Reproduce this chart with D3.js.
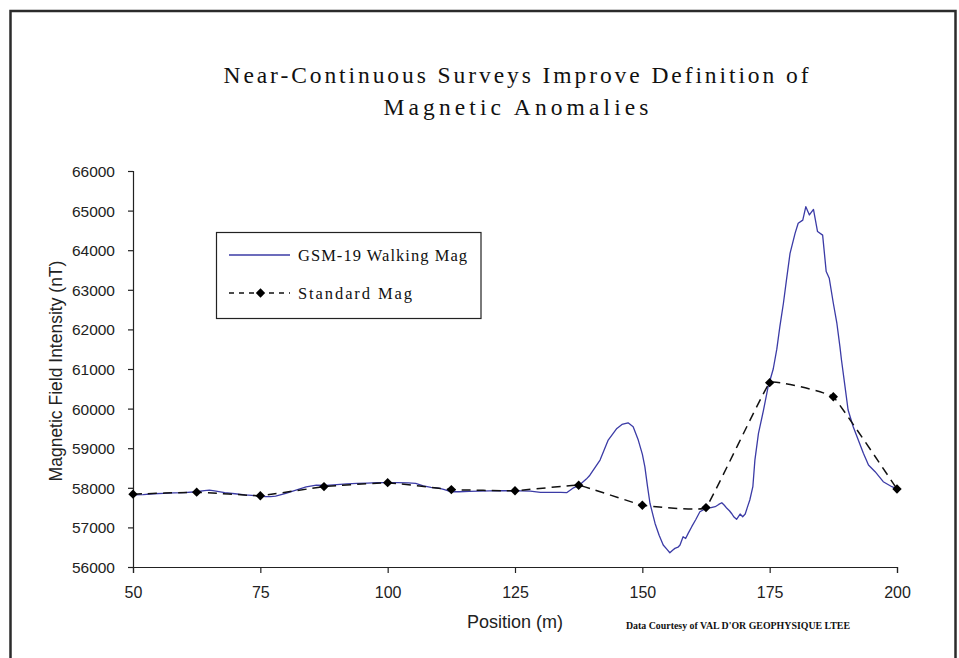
<!DOCTYPE html>
<html>
<head>
<meta charset="utf-8">
<script src="https://cdn.jsdelivr.net/npm/d3@7"></script>
<style>
  html, body { margin: 0; padding: 0; background: #fff; }
  svg { display: block; }
</style>
</head>
<body>
<svg id="chart" width="959" height="658"></svg>
<script>
// ---------------- DATA ----------------
const titleLines = ["Near-Continuous Surveys Improve Definition of", "Magnetic Anomalies"];
const xTicks = [50, 75, 100, 125, 150, 175, 200];
const yTicks = [56000, 57000, 58000, 59000, 60000, 61000, 62000, 63000, 64000, 65000, 66000];
const seriesNames = ["GSM-19 Walking Mag", "Standard Mag"];

// Standard magnetometer readings (12.5 m station spacing)
const stdPos = [50, 62.5, 75, 87.5, 100, 112.5, 125, 137.5, 150, 162.5, 175, 187.5, 200];
const stdVal = [57840, 57890, 57800, 58030, 58130, 57955, 57925, 58065, 57560, 57500, 60655, 60300, 57970];

// GSM-19 walking magnetometer (near-continuous)
const walkPos = [50, 52, 54, 56, 58, 60, 62.5, 64, 65, 66, 68, 70, 72, 74, 76, 77, 78, 80, 82, 84, 86, 88,
  90, 92, 94, 96, 98, 100, 102, 104, 105.5, 107, 108.5, 110, 111, 112.5, 114, 116, 118, 120, 122, 124, 126,
  128, 130, 132, 134, 135.2, 136.5, 137.6, 139, 139.7, 141.7, 143.3, 145, 146, 147.2, 148.2, 149.2, 150,
  150.5, 151, 151.5, 152.5, 153.3, 154.1, 154.8, 155.4, 156, 156.4, 157, 157.4, 158, 158.5, 159, 159.7,
  160.5, 161.3, 162.5, 163.5, 164.3, 165, 165.6, 166.1, 166.6, 167.1, 167.6, 168, 168.5, 169.2, 169.7,
  170.2, 170.6, 171.1, 171.7, 172.1, 172.8, 173.8, 174.7, 175.7, 176.4, 177, 177.7, 178.3, 179, 180,
  180.6, 181.5, 182.1, 182.8, 183.6, 184.4, 185.4, 186.1, 186.7, 187.5, 188.2, 188.8, 189.1, 189.8,
  190.4, 191.4, 192.4, 193.4, 194.4, 195.7, 197.3, 199, 200];
const walkVal = [57820, 57830, 57850, 57860, 57870, 57880, 57900, 57930, 57940, 57920, 57880, 57850, 57820,
  57800, 57780, 57775, 57790, 57860, 57940, 58025, 58070, 58060,
  58080, 58100, 58110, 58120, 58130, 58130, 58130, 58125, 58110, 58050, 58010, 57990, 57960, 57900, 57900,
  57910, 57915, 57920, 57925, 57925, 57920,
  57915, 57885, 57885, 57885, 57880, 58000, 58065, 58220, 58318, 58700, 59205, 59500, 59600, 59640, 59540,
  59205, 58850,
  58530, 58050, 57610, 57100, 56800, 56555, 56450, 56360, 56430, 56470, 56500, 56555, 56765, 56720, 56850,
  57018,
  57200, 57396, 57480, 57500, 57523, 57580, 57624, 57560, 57482, 57420, 57338, 57260, 57204, 57338, 57270,
  57338, 57500, 57692, 58028, 58700, 59376, 59965, 60553, 61000, 61500, 62068, 62660, 63250, 63920, 64430,
  64680, 64760, 65100, 64890, 65030, 64470, 64380, 63460, 63290, 62660, 62150, 61560, 61227, 60550,
  59965, 59543, 59207, 58871, 58576, 58407, 58154, 58028, 57970];

const xLabel = "Position (m)";
const yLabel = "Magnetic Field Intensity (nT)";
const credit = "Data Courtesy of VAL D'OR GEOPHYSIQUE LTEE";

// ---------------- DRAW ----------------
const svg = d3.select("#chart");
const blue = "#3b3ba6";

// outer frame
svg.append("rect")
  .attr("x", 10.5).attr("y", 11).attr("width", 945).attr("height", 700)
  .attr("fill", "none").attr("stroke", "#2b2b2b").attr("stroke-width", 2.5);

const x = d3.scaleLinear().domain([50, 200]).range([133, 897]);
const y = d3.scaleLinear().domain([56000, 66000]).range([567, 171]);

// title
const titleLen = [585, 265];
const titleY = [83, 115];
titleLines.forEach((t, i) => {
  svg.append("text")
    .attr("x", 516).attr("y", titleY[i])
    .attr("text-anchor", "middle")
    .attr("font-family", "'Liberation Serif', 'Times New Roman', serif")
    .attr("font-size", 23.5)
    .attr("textLength", titleLen[i])
    .attr("lengthAdjust", "spacing")
    .attr("fill", "#111")
    .text(t);
});

// axes
const xAxis = svg.append("g")
  .attr("transform", `translate(0,${y(56000)})`)
  .call(d3.axisBottom(x).tickValues(xTicks).tickSize(6).tickPadding(14).tickFormat(d3.format("d")));
const yAxis = svg.append("g")
  .attr("transform", `translate(${x(50)},0)`)
  .call(d3.axisLeft(y).tickValues(yTicks).tickSize(5).tickPadding(13).tickFormat(d3.format("d")));

[xAxis, yAxis].forEach(g => {
  g.select(".domain").attr("stroke", "#222").attr("stroke-width", 1.2);
  g.selectAll(".tick line").attr("stroke", "#222").attr("stroke-width", 1.2);
  g.selectAll(".tick text")
    .attr("font-family", "'Liberation Sans', Arial, sans-serif")
    .attr("fill", "#222");
});
xAxis.selectAll(".tick text").attr("font-size", 16);
yAxis.selectAll(".tick text").attr("font-size", 15.5).attr("dy", "0.36em");

// axis titles
svg.append("text")
  .attr("x", 515).attr("y", 628)
  .attr("text-anchor", "middle")
  .attr("font-family", "'Liberation Sans', Arial, sans-serif")
  .attr("font-size", 18).attr("fill", "#222")
  .text(xLabel);

svg.append("text")
  .attr("transform", "translate(62,371) rotate(-90)")
  .attr("text-anchor", "middle")
  .attr("font-family", "'Liberation Sans', Arial, sans-serif")
  .attr("font-size", 17.5).attr("fill", "#222")
  .text(yLabel);

// credit
svg.append("text")
  .attr("x", 626).attr("y", 629)
  .attr("font-family", "'Liberation Serif', 'Times New Roman', serif")
  .attr("font-size", 10.5).attr("font-weight", "bold")
  .attr("textLength", 224).attr("lengthAdjust", "spacingAndGlyphs")
  .attr("fill", "#111")
  .text(credit);

// walking mag line
const walk = walkPos.map((p, i) => [p, walkVal[i]]);
svg.append("path")
  .datum(walk)
  .attr("fill", "none")
  .attr("stroke", blue)
  .attr("stroke-width", 1.3)
  .attr("stroke-linejoin", "round")
  .attr("d", d3.line().x(d => x(d[0])).y(d => y(d[1])));

// standard mag line
const std = stdPos.map((p, i) => [p, stdVal[i]]);
svg.append("path")
  .datum(std)
  .attr("fill", "none")
  .attr("stroke", "#111")
  .attr("stroke-width", 1.5)
  .attr("stroke-dasharray", "9,6")
  .attr("d", d3.line().curve(d3.curveCardinal.tension(0.8)).x(d => x(d[0])).y(d => y(d[1])));

const diamond = d3.symbol().type(d3.symbolSquare).size(44);
svg.append("g").selectAll("path")
  .data(std)
  .join("path")
  .attr("d", diamond)
  .attr("transform", d => `translate(${x(d[0])},${y(d[1])}) rotate(45)`)
  .attr("fill", "#000");

// legend
const lg = svg.append("g");
lg.append("rect")
  .attr("x", 216.5).attr("y", 232.5).attr("width", 264.5).attr("height", 86)
  .attr("fill", "#fff").attr("stroke", "#222").attr("stroke-width", 1.2);
lg.append("line")
  .attr("x1", 229).attr("x2", 290).attr("y1", 255).attr("y2", 255)
  .attr("stroke", blue).attr("stroke-width", 1.3);
lg.append("line")
  .attr("x1", 229).attr("x2", 290).attr("y1", 293).attr("y2", 293)
  .attr("stroke", "#111").attr("stroke-width", 1.5).attr("stroke-dasharray", "5,5");
lg.append("path")
  .attr("d", diamond)
  .attr("transform", "translate(260.5,293) rotate(45)")
  .attr("fill", "#000");
const legLen = [169, 114];
const legY = [261, 299];
seriesNames.forEach((n, i) => {
  lg.append("text")
    .attr("x", 298).attr("y", legY[i])
    .attr("font-family", "'Liberation Serif', 'Times New Roman', serif")
    .attr("font-size", 16.5)
    .attr("textLength", legLen[i]).attr("lengthAdjust", "spacing")
    .attr("fill", "#111")
    .text(n);
});
</script>
</body>
</html>
